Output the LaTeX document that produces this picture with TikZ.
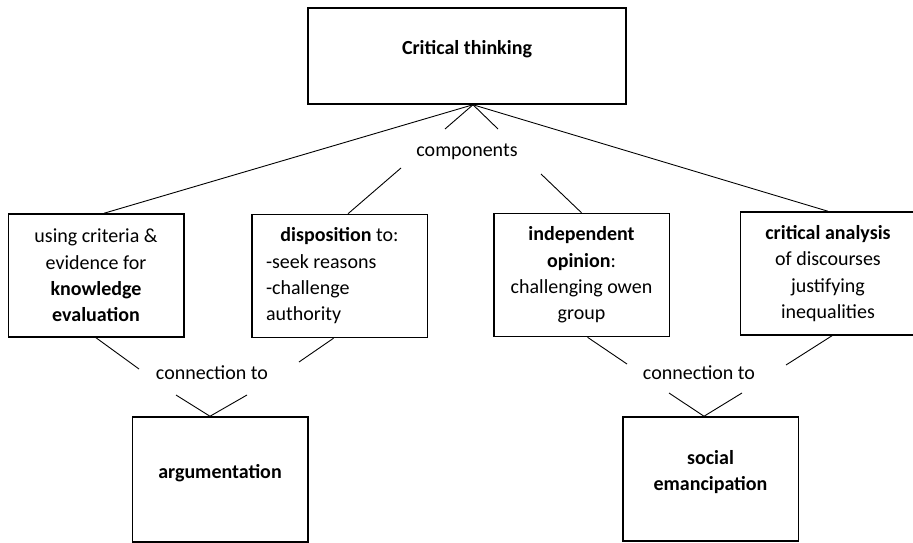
\documentclass[tikz,border=0pt]{standalone}
\usepackage{fontspec}
\setmainfont{Carlito}
\usetikzlibrary{calc}

\begin{document}
\begin{tikzpicture}[x=1pt, y=-1pt,
  font=\fontsize{20}{26.3}\selectfont,
  box/.style={draw, line width=1.5pt, align=center, inner sep=0pt,
    minimum width=\bw, minimum height=\bh},
  lifted/.style={text depth=16.5pt},
  link/.style={line width=0.9pt}]
  \def\bw{175.5pt}\def\bh{123pt}

  \useasboundingbox (0,0) rectangle (913,543);

  % Critical thinking -- top box
  \node[box, lifted, minimum width=318pt, minimum height=96pt] (crit) at (467,56) {\textbf{Critical thinking}};
  \coordinate (apex) at ([xshift=6pt]crit.south);
  \node (comp) at (467,152) {components};

  % four components
  \node[box] (eval) at (96,275.5) {using criteria \&\\evidence for\\\textbf{knowledge}\\\textbf{evaluation}};
  \node[box, align=flush left, text width=147pt] (disp) at (339.5,276) {{\centering\textbf{disposition} to:\par}-seek reasons\\-challenge\\authority};
  \node[box] (indep) at (581.5,275) {\textbf{independent}\\\textbf{opinion}:\\challenging owen\\group};
  \node[box] (anal) at (828,273.5) {\textbf{critical analysis}\\of discourses\\justifying\\inequalities};

  % connections
  \node (conL) at (212,373) {connection to};
  \node (conR) at (699,373) {connection to};
  \node[box, lifted, minimum height=125pt] (arg) at (220,479.5) {\textbf{argumentation}};
  \node[box, lifted, minimum height=124pt] (soc) at (710.5,479) {\textbf{social}\\\textbf{emancipation}};

  % free ends of the short strokes
  \coordinate (cu1) at (445,129);
  \coordinate (cu2) at (498,129);
  \coordinate (cl1) at (401,168);
  \coordinate (cl2) at (541,174);
  \coordinate (aL1) at (139,369);
  \coordinate (aL2) at (299,362);
  \coordinate (aL3) at (176,395);
  \coordinate (aL4) at (247,395);
  \coordinate (aR1) at (627,364);
  \coordinate (aR2) at (786,365);
  \coordinate (aR3) at (669,393);
  \coordinate (aR4) at (742,393);

  % top links
  \draw[link] (apex) -- ([xshift=8pt]eval.north);
  \draw[link] (apex) -- (anal.north);
  \draw[link] (cu1) -- (apex) -- (cu2);
  \draw[link] (cl1) -- ([xshift=8.5pt]disp.north);
  \draw[link] (cl2) -- (indep.north);

  % bottom links
  \draw[link] (eval.south) -- (aL1);
  \draw[link] ([xshift=-6pt]disp.south) -- (aL2);
  \draw[link] (aL3) -- ([xshift=-10pt]arg.north) -- (aL4);
  \draw[link] ([xshift=6pt]indep.south) -- (aR1);
  \draw[link] ([xshift=4pt]anal.south) -- (aR2);
  \draw[link] (aR3) -- ([xshift=-6.5pt]soc.north) -- (aR4);

\end{tikzpicture}
\end{document}
